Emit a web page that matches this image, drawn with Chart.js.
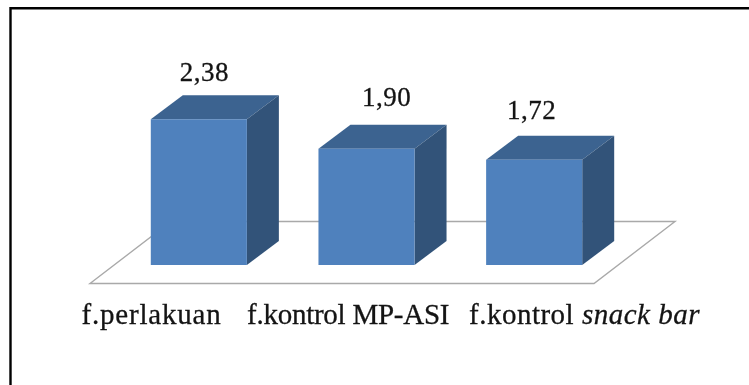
<!DOCTYPE html>
<html>
<head>
<meta charset="utf-8">
<title>f.perlakuan, f.kontrol MP-ASI, f.kontrol snack bar</title>
<script src="https://cdn.jsdelivr.net/npm/chart.js@4"></script>
<style>
  html, body { margin: 0; padding: 0; background: #fff; overflow: hidden; }
  canvas { display: block; }
</style>
</head>
<body>
<canvas id="chart" width="749" height="385"></canvas>
<script>
// Values
const categories = ['f.perlakuan', 'f.kontrol MP-ASI', 'f.kontrol snack bar'];
const values = [2.38, 1.90, 1.72];

// Each axis label as upright / italic runs
const labelRuns = [
  [['f.perlakuan', false]],
  [['f.kontrol MP-ASI', false]],
  [['f.kontrol ', false], ['snack bar', true]]
];

// Layout
const depthX = 32, depthY = 24;
const labelStarts = [81.5, 247, 469];
const labelSpacing = [0.8, -0.25, 0.5];
const labelBaseline = 324;
const labelSize = 29;
const valueSize = 27;
const valueShift = [5.5, 20, -2.5];
const valueGap = [14.5, 19, 17];
const frameColor = '#000000';
const frontColor = '#4F81BD';
const topColor = '#3C6390';
const sideColor = '#325379';
const floorColor = '#A9A9A9';
const textColor = '#141414';

const setFont = (ctx, size, italic, spacing) => {
  ctx.font = (italic ? 'italic ' : '') + size + 'px "Liberation Serif", serif';
  ctx.letterSpacing = spacing + 'px';
};

// Fill plus a hairline outline, which gives the text a little more weight
const paintText = (ctx, text, x, y) => {
  ctx.fillText(text, x, y);
  ctx.strokeText(text, x, y);
};

const scenery = {
  id: 'scenery',
  beforeDatasetsDraw(chart) {
    const { ctx } = chart;
    const base = chart.scales.y.getPixelForValue(0);

    // Page frame: open on the right and at the bottom
    ctx.save();
    ctx.strokeStyle = frameColor;
    ctx.lineWidth = 2.4;
    ctx.beginPath();
    ctx.moveTo(10.5, 385);
    ctx.lineTo(10.5, 8.2);
    ctx.lineTo(749, 8.2);
    ctx.stroke();

    // Floor parallelogram under the columns
    const frontY = base + 18.5;
    const backY = frontY - 62;
    const frontL = chart.chartArea.left - 25;
    const frontR = chart.chartArea.right - 24;
    ctx.strokeStyle = floorColor;
    ctx.lineWidth = 1.4;
    ctx.beginPath();
    ctx.moveTo(frontL, frontY);
    ctx.lineTo(frontR, frontY);
    ctx.lineTo(frontR + 81, backY);
    ctx.lineTo(frontL + 81, backY);
    ctx.closePath();
    ctx.stroke();

    // Top and side faces of every column
    chart.getDatasetMeta(0).data.forEach((bar) => {
      const left = bar.x - bar.width / 2;
      const right = bar.x + bar.width / 2;
      ctx.fillStyle = topColor;
      ctx.beginPath();
      ctx.moveTo(left, bar.y);
      ctx.lineTo(left + depthX, bar.y - depthY);
      ctx.lineTo(right + depthX, bar.y - depthY);
      ctx.lineTo(right, bar.y);
      ctx.closePath();
      ctx.fill();
      ctx.fillStyle = sideColor;
      ctx.beginPath();
      ctx.moveTo(right, bar.y);
      ctx.lineTo(right + depthX, bar.y - depthY);
      ctx.lineTo(right + depthX, bar.base - depthY);
      ctx.lineTo(right, bar.base);
      ctx.closePath();
      ctx.fill();
    });
    ctx.restore();
  },
  afterDatasetsDraw(chart) {
    const { ctx } = chart;
    ctx.save();
    ctx.fillStyle = textColor;
    ctx.strokeStyle = textColor;
    ctx.lineWidth = 0.3;
    ctx.textBaseline = 'alphabetic';

    // Value labels above the columns, with a decimal comma
    ctx.textAlign = 'center';
    chart.getDatasetMeta(0).data.forEach((bar, i) => {
      setFont(ctx, valueSize, false, 0.5);
      const text = values[i].toFixed(2).replace('.', ',');
      paintText(ctx, text, bar.x + valueShift[i], bar.y - depthY - valueGap[i]);
    });

    // Category labels, laid out run by run so the italic part can sit inline
    ctx.textAlign = 'left';
    labelRuns.forEach((runs, i) => {
      let x = labelStarts[i];
      runs.forEach(([t, it]) => {
        setFont(ctx, labelSize, it, labelSpacing[i]);
        paintText(ctx, t, x, labelBaseline);
        x += ctx.measureText(t).width;
      });
    });
    ctx.restore();
  }
};

new Chart(document.getElementById('chart'), {
  type: 'bar',
  data: {
    labels: categories,
    datasets: [{
      data: values,
      backgroundColor: frontColor,
      borderWidth: 0,
      barPercentage: 1,
      categoryPercentage: 0.573
    }]
  },
  options: {
    responsive: false,
    animation: false,
    layout: { padding: { left: 115, right: 131, top: 20, bottom: 120 } },
    plugins: { legend: { display: false }, tooltip: { enabled: false }, title: { display: false } },
    scales: {
      x: { display: false },
      y: { display: false, min: 0, max: 4 }
    }
  },
  plugins: [scenery]
});
</script>
</body>
</html>
